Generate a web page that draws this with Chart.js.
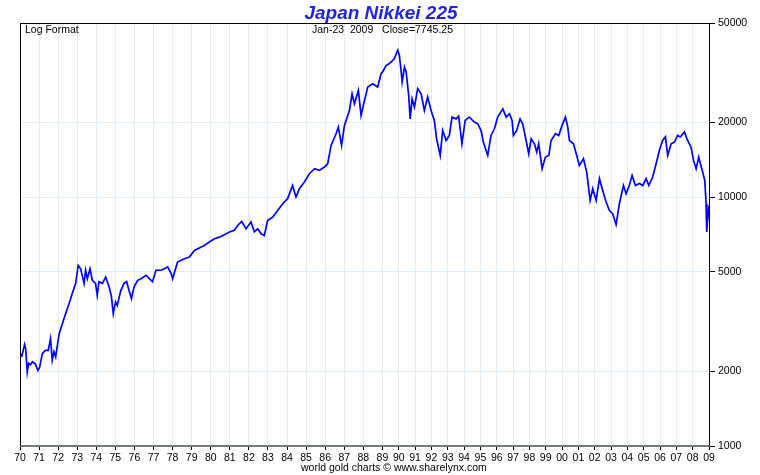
<!DOCTYPE html>
<html>
<head>
<meta charset="utf-8">
<script src="https://cdn.jsdelivr.net/npm/chart.js@4/dist/chart.umd.min.js"></script>
<style>
html,body{margin:0;padding:0;background:#fff;}
#wrap{width:760px;height:475px;position:relative;}
</style>
</head>
<body>
<div id="wrap"><canvas id="c" width="760" height="475"></canvas></div>
<script>
// ---- data ----
const dates = [
1970.00,1970.10,1970.24,1970.30,1970.38,1970.45,1970.55,1970.65,1970.80,1970.94,
1971.03,1971.17,1971.33,1971.48,1971.60,1971.69,1971.78,1971.87,
1972.05,1972.22,1972.39,1972.57,1972.74,1972.92,
1973.05,1973.18,1973.36,1973.44,1973.53,1973.67,1973.79,1973.96,
1974.05,1974.14,1974.32,1974.49,1974.67,1974.79,1974.89,
1975.01,1975.10,1975.28,1975.45,1975.59,1975.72,1975.84,1975.98,
1976.17,1976.35,1976.61,1976.78,1976.95,
1977.13,1977.39,1977.57,1977.74,1977.92,
1978.00,1978.26,1978.62,1978.88,
1979.14,1979.40,1979.66,1979.93,
1980.19,1980.45,1980.71,1980.98,
1981.24,1981.41,1981.62,1981.85,
1982.11,1982.29,1982.46,1982.64,1982.81,1982.98,
1983.25,1983.51,1983.77,
1984.03,1984.29,1984.47,1984.65,1984.91,
1985.17,1985.44,1985.70,1985.96,
1986.13,1986.31,1986.57,1986.69,1986.86,
1987.01,1987.27,1987.41,1987.53,1987.74,1987.88,
1988.02,1988.23,1988.49,1988.75,1988.93,
1989.02,1989.23,1989.32,1989.53,1989.73,1989.94,
1990.04,1990.15,1990.21,1990.35,1990.45,1990.61,1990.70,1990.82,1990.96,
1991.16,1991.37,1991.57,1991.77,1991.98,
1992.18,1992.32,1992.54,1992.69,1992.90,
1993.10,1993.26,1993.51,1993.67,1993.87,
1994.07,1994.32,1994.63,1994.84,
1995.04,1995.18,1995.45,1995.65,1995.86,
1996.06,1996.37,1996.58,1996.78,1996.94,
1997.02,1997.22,1997.43,1997.59,1997.80,1997.96,
1998.11,1998.31,1998.45,1998.57,1998.78,1998.98,
1999.19,1999.33,1999.60,1999.80,
2000.00,2000.21,2000.35,2000.45,2000.70,2000.90,
2001.06,2001.31,2001.51,2001.72,2001.88,
2002.09,2002.29,2002.49,2002.70,2002.90,
2003.10,2003.31,2003.51,2003.76,2003.92,
2004.12,2004.29,2004.49,2004.74,2004.94,
2005.15,2005.31,2005.55,2005.76,2005.96,
2006.16,2006.33,2006.47,2006.68,2006.88,
2007.08,2007.24,2007.49,2007.69,2007.90,
2008.06,2008.21,2008.37,2008.47,2008.61,2008.74,2008.82,2008.86,2008.94,2008.98,
2009.06
];
const closes = [
2350,2300,2560,2450,1980,2150,2120,2180,2140,2010,
2070,2350,2420,2420,2700,2210,2390,2280,
2820,3100,3400,3730,4100,4500,
5310,5150,4500,5080,4700,5150,4630,4500,
4030,4570,4500,4770,4360,4000,3400,
3790,3670,4200,4500,4570,4200,3910,4360,
4630,4700,4850,4700,4570,
5080,5080,5150,5240,4940,
4700,5480,5650,5740,
6100,6240,6390,6600,
6800,6900,7060,7240,
7350,7690,7980,7460,
7930,7250,7450,7120,7010,8050,
8310,8830,9400,
9850,11130,10000,10800,11490,
12400,12990,12790,13200,
13600,16120,17960,19100,16120,
19400,22270,25990,23680,26810,21280,
23680,27650,28500,27650,31290,
31870,33800,34000,34860,35960,38830,
37025,31870,29000,33260,31870,25600,20600,24800,22980,
27250,25990,22270,25200,22270,
20300,17130,14690,18500,16870,
17680,20940,20600,21130,16370,
20300,20940,20000,19690,
18500,16620,14690,17680,18800,
20940,22600,20940,21610,20300,
17680,18500,20600,19690,16870,14920,
17130,16370,15160,16370,13000,14480,
14690,16870,17960,17680,
19400,20940,19100,16870,16370,14690,
13400,14250,12600,9690,10800,
9690,11850,10630,9550,8830,
8570,7750,9400,11130,10310,
11130,12220,11130,11330,11130,
11850,11130,12030,13600,15380,
16870,17430,14690,16370,16620,
17680,17430,18250,16870,15860,
13990,13000,14480,13600,12600,11660,9400,7240,8830,9250,
7745.25
];
const yearTicks = [];
for (let y = 1970; y <= 2009; y++) yearTicks.push(y);
const yearLabels = yearTicks.map(y => String(y % 100).padStart(2, '0'));
const priceTicks = [1000, 2000, 5000, 10000, 20000, 50000];

// trading sessions per year (Saturday sessions before 1989)
const sessionsPerYear = y => (y < 1989 ? 292 : 250);
function sessionIndex(t) {
  const full = Math.floor(t);
  let idx = 0;
  for (let y = 1970; y < full; y++) idx += sessionsPerYear(y);
  return idx + (t - full) * sessionsPerYear(full);
}
const points = dates.map((d, i) => ({ x: sessionIndex(d), y: closes[i] }));

const FONT = "'Liberation Sans', Arial, sans-serif";
const overlay = {
  id: 'overlay',
  afterDraw(chart) {
    const c = chart.ctx, a = chart.chartArea;
    c.save();
    c.strokeStyle = '#000';
    c.lineWidth = 1;
    c.strokeRect(Math.round(a.left) + 0.5, Math.round(a.top) + 0.5,
                 Math.round(a.right - a.left) - 1, Math.round(a.bottom - a.top) - 0.5);
    c.fillStyle = '#2222ee';
    c.font = "italic bold 19px " + FONT;
    c.textAlign = 'center';
    c.textBaseline = 'alphabetic';
    c.fillText('Japan Nikkei 225', 381, 19);
    c.fillStyle = '#000';
    c.font = "10.5px " + FONT;
    c.textAlign = 'left';
    c.textBaseline = 'middle';
    c.fillText('Log Format', 25, 30);
    c.fillText('Jan-23  2009   Close=7745.25', 312, 30);
    c.fillText('world gold charts \u00a9 www.sharelynx.com', 301, 468);
    c.restore();
  }
};

new Chart(document.getElementById('c').getContext('2d'), {
  type: 'line',
  data: {
    datasets: [{
      data: points,
      borderColor: '#0000ff',
      borderWidth: 1.7,
      pointRadius: 0,
      fill: false,
      tension: 0
    }]
  },
  options: {
    responsive: false,
    animation: false,
    layout: { padding: { left: 20, top: 23, right: 0, bottom: 0 } },
    plugins: { legend: { display: false }, tooltip: { enabled: false }, title: { display: false } },
    scales: {
      x: {
        type: 'linear',
        min: sessionIndex(1970),
        max: sessionIndex(2009.06),
        afterBuildTicks: s => { s.ticks = yearTicks.map(y => ({ value: sessionIndex(y) })); },
        afterFit: s => { s.height = 29; },
        border: { display: false },
        grid: { color: '#e0eef9', tickColor: '#000', tickLength: 4, drawTicks: true },
        ticks: {
          autoSkip: false, maxRotation: 0, minRotation: 0, padding: 2, color: '#000',
          font: { family: FONT, size: 10.5 },
          callback: (v, i) => yearLabels[i]
        }
      },
      y: {
        type: 'logarithmic',
        position: 'right',
        min: 1000,
        max: 50000,
        afterBuildTicks: s => { s.ticks = priceTicks.map(v => ({ value: v })); },
        afterFit: s => { s.width = 50; },
        border: { display: false },
        grid: { color: '#e0eef9', tickColor: '#000', tickLength: 5, drawTicks: true },
        ticks: {
          padding: 3, color: '#000',
          font: { family: FONT, size: 10.5 },
          callback: v => String(v)
        }
      }
    }
  },
  plugins: [overlay]
});
</script>
</body>
</html>
